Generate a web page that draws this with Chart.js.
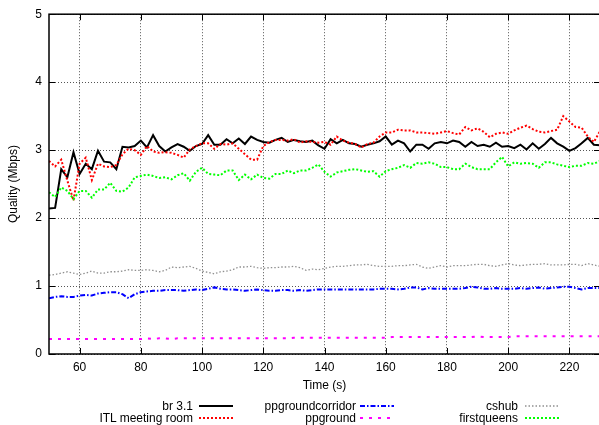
<!DOCTYPE html>
<html><head><meta charset="utf-8">
<style>
html,body{margin:0;padding:0;background:#fff;overflow:hidden;width:599px;height:425px;}
#wrap{position:relative;width:599px;height:425px;overflow:hidden;background:#fff;}
#c{position:absolute;left:0;top:0;}
.lt{position:absolute;font:12px "Liberation Sans",Arial,Helvetica,sans-serif;color:#000;white-space:nowrap;line-height:12px;text-align:right;width:200px;}
.ls{position:absolute;}
</style>
<script src="https://cdn.jsdelivr.net/npm/chart.js"></script>
</head><body><div id="wrap"><canvas id="c" width="600" height="425"></canvas></div>
<script>
const times = [
 50,52,54,56,58,60,62,64,66,68,
 70,72,74,76,78,80,82,84,86,88,
 90,92,94,96,98,100,102,104,106,108,
 110,112,114,116,118,120,122,124,126,128,
 130,132,134,136,138,140,142,144,146,148,
 150,152,154,156,158,160,162,164,166,168,
 170,172,174,176,178,180,182,184,186,188,
 190,192,194,196,198,200,202,204,206,208,
 210,212,214,216,218,220,222,224,226,228,
 230];
const br31 = [
 2.14,2.15,2.72,2.60,2.97,2.65,2.80,2.72,2.99,2.83,
 2.82,2.72,3.05,3.04,3.06,3.14,3.04,3.22,3.06,2.98,
 3.04,3.09,3.05,2.99,3.06,3.09,3.22,3.08,3.08,3.16,
 3.10,3.17,3.09,3.20,3.15,3.12,3.11,3.15,3.18,3.12,
 3.15,3.13,3.12,3.14,3.07,3.02,3.16,3.10,3.15,3.10,
 3.09,3.05,3.08,3.10,3.13,3.20,3.08,3.14,3.10,2.98,
 3.08,3.08,3.02,3.10,3.12,3.10,3.14,3.12,3.05,3.12,
 3.06,3.08,3.05,3.11,3.05,3.06,3.03,3.08,3.01,3.10,
 3.02,3.09,3.18,3.10,3.05,2.99,3.03,3.10,3.18,3.08,
 3.07];
const itlMeetingRoom = [
 2.84,2.76,2.86,2.55,2.26,2.80,2.89,2.56,2.80,2.76,
 2.75,2.78,2.94,3.02,3.00,2.93,3.06,2.98,2.96,2.97,
 2.96,2.93,2.89,3.01,3.06,3.10,3.10,3.02,3.09,3.08,
 3.10,3.02,2.94,2.86,2.86,3.06,3.12,3.15,3.15,3.14,
 3.16,3.11,3.13,3.12,3.11,3.12,3.08,3.20,3.14,3.11,
 3.09,3.04,3.09,3.11,3.20,3.26,3.26,3.30,3.29,3.29,
 3.26,3.26,3.25,3.24,3.26,3.28,3.25,3.23,3.34,3.29,
 3.32,3.27,3.19,3.24,3.26,3.24,3.29,3.33,3.36,3.31,
 3.27,3.26,3.28,3.30,3.50,3.42,3.34,3.33,3.20,3.12,
 3.28];
const ppgroundcorridor = [
 0.82,0.84,0.85,0.84,0.84,0.86,0.87,0.86,0.89,0.90,
 0.91,0.91,0.88,0.82,0.88,0.91,0.92,0.93,0.93,0.94,
 0.94,0.94,0.93,0.94,0.95,0.94,0.96,0.98,0.96,0.95,
 0.95,0.94,0.93,0.94,0.95,0.94,0.93,0.93,0.94,0.94,
 0.93,0.94,0.93,0.94,0.95,0.95,0.95,0.95,0.95,0.95,
 0.95,0.95,0.95,0.95,0.96,0.96,0.96,0.95,0.96,0.98,
 0.98,0.95,0.97,0.96,0.96,0.96,0.96,0.96,0.97,0.99,
 0.98,0.96,0.96,0.97,0.96,0.96,0.96,0.97,0.96,0.97,
 0.98,0.96,0.97,0.98,0.99,0.99,0.97,0.95,0.97,0.97,
 0.97];
const ppground = [
 0.22,0.22,0.22,0.22,0.22,0.22,0.22,0.22,0.22,0.22,
 0.22,0.22,0.22,0.22,0.22,0.22,0.23,0.22,0.23,0.23,
 0.22,0.23,0.23,0.23,0.23,0.23,0.23,0.23,0.23,0.23,
 0.23,0.23,0.23,0.23,0.23,0.23,0.23,0.23,0.23,0.23,
 0.24,0.24,0.24,0.24,0.24,0.24,0.24,0.24,0.24,0.24,
 0.24,0.24,0.24,0.24,0.24,0.24,0.25,0.25,0.25,0.25,
 0.25,0.25,0.25,0.25,0.25,0.25,0.25,0.25,0.25,0.25,
 0.26,0.25,0.25,0.25,0.25,0.25,0.26,0.26,0.26,0.26,
 0.26,0.26,0.26,0.26,0.26,0.26,0.26,0.26,0.26,0.26,
 0.26];
const cshub = [
 1.16,1.17,1.19,1.21,1.19,1.17,1.19,1.22,1.19,1.19,
 1.21,1.21,1.22,1.24,1.23,1.23,1.24,1.23,1.21,1.23,
 1.28,1.27,1.28,1.29,1.26,1.22,1.20,1.18,1.21,1.22,
 1.24,1.28,1.28,1.29,1.27,1.26,1.27,1.27,1.28,1.28,
 1.29,1.27,1.23,1.25,1.24,1.26,1.28,1.29,1.29,1.30,
 1.31,1.31,1.32,1.30,1.29,1.29,1.29,1.30,1.30,1.31,
 1.32,1.28,1.26,1.28,1.30,1.28,1.30,1.30,1.30,1.31,
 1.32,1.32,1.30,1.29,1.31,1.33,1.31,1.30,1.31,1.32,
 1.32,1.33,1.31,1.31,1.31,1.32,1.32,1.30,1.33,1.31,
 1.29];
const firstqueens = [
 2.38,2.31,2.45,2.40,2.28,2.40,2.40,2.30,2.42,2.42,
 2.52,2.40,2.39,2.45,2.60,2.62,2.64,2.62,2.59,2.60,
 2.57,2.63,2.66,2.55,2.68,2.74,2.65,2.64,2.63,2.70,
 2.70,2.56,2.64,2.57,2.64,2.59,2.58,2.65,2.65,2.70,
 2.66,2.70,2.70,2.74,2.79,2.68,2.61,2.67,2.69,2.71,
 2.72,2.70,2.68,2.69,2.61,2.69,2.72,2.74,2.78,2.74,
 2.81,2.80,2.82,2.80,2.75,2.75,2.72,2.72,2.80,2.75,
 2.72,2.72,2.72,2.82,2.90,2.76,2.82,2.80,2.81,2.80,
 2.74,2.82,2.82,2.79,2.77,2.75,2.77,2.77,2.81,2.80,
 2.84];
const seriesNames = ['br 3.1','ITL meeting room','ppgroundcorridor','ppground','cshub','firstqueens'];
const seriesValues = [br31, itlMeetingRoom, ppgroundcorridor, ppground, cshub, firstqueens];
const xTicks = [60,80,100,120,140,160,180,200,220];
const yTicks = [0,1,2,3,4,5];
const xTitle = 'Time (s)';
const yTitle = 'Quality (Mbps)';

// styles (not data)
const styles = [
  {color:'#000000', width:2,   dash:[]},
  {color:'#ff0000', width:2,   dash:[2,2]},
  {color:'#0000ff', width:2,   dash:[5,2,1.5,2]},
  {color:'#ff00ff', width:2,   dash:[3,6]},
  {color:'#909090', width:1.3, dash:[1.5,2]},
  {color:'#00ff00', width:2,   dash:[2,2]}
];
const legendPos = [
  {right:193, sx:199, y:406},
  {right:193, sx:199, y:418},
  {right:356, sx:360, y:406},
  {right:356, sx:360, y:418},
  {right:518, sx:525, y:406},
  {right:518, sx:525, y:418}
];

Chart.defaults.font.family = '"Liberation Sans", Arial, Helvetica, sans-serif';
Chart.defaults.font.size = 12;
Chart.defaults.color = '#000';

const datasets = seriesNames.map((name, i) => ({
  label: name,
  data: times.map((t, k) => ({x: t, y: seriesValues[i][k]})),
  borderColor: styles[i].color,
  borderWidth: styles[i].width,
  borderDash: styles[i].dash,
  borderCapStyle: 'butt',
  pointRadius: 0,
  fill: false,
  tension: 0,
  order: seriesNames.length - i
}));

const frame = {
  id: 'frame',
  afterDatasetsDraw(chart) {
    const {ctx, chartArea: a, scales: {x, y}} = chart;
    ctx.save();
    ctx.setLineDash([]);
    ctx.strokeStyle = '#000';
    ctx.lineWidth = 1;
    ctx.beginPath();
    xTicks.forEach(v => {
      const px = Math.round(x.getPixelForValue(v)) + 0.5;
      ctx.moveTo(px, a.bottom); ctx.lineTo(px, a.bottom - 6);
      ctx.moveTo(px, a.top); ctx.lineTo(px, a.top + 6);
    });
    yTicks.forEach(v => {
      const py = Math.round(y.getPixelForValue(v)) + 0.5;
      ctx.moveTo(a.left, py); ctx.lineTo(a.left + 6, py);
      ctx.moveTo(a.right, py); ctx.lineTo(a.right - 6, py);
    });
    ctx.stroke();
    ctx.lineWidth = 1.5;
    ctx.strokeRect(a.left, a.top, a.right - a.left, a.bottom - a.top);
    ctx.restore();
  }
};

new Chart(document.getElementById('c'), {
  type: 'line',
  data: {datasets},
  options: {
    responsive: false,
    animation: false,
    devicePixelRatio: 1,
    layout: {padding: {top: 12, right: 0, bottom: 0, left: 0}},
    plugins: {legend: {display: false}, tooltip: {enabled: false}},
    scales: {
      x: {
        type: 'linear', min: 50, max: 230,
        afterBuildTicks: s => { s.ticks = xTicks.map(v => ({value: v})); },
        afterFit: s => { s.height = 71; },
        ticks: {padding: 6, maxRotation: 0, autoSkip: false, font: {size: 12}},
        grid: {drawTicks: false, color: '#555', lineWidth: 1},
        border: {display: false, dash: [1, 2]},
        title: {display: true, text: xTitle, font: {size: 12}, padding: {top: 0, bottom: 32}}
      },
      y: {
        type: 'linear', min: 0, max: 5,
        afterBuildTicks: s => { s.ticks = yTicks.map(v => ({value: v})); },
        afterFit: s => { s.width = 49; },
        ticks: {padding: 7, font: {size: 12}},
        grid: {drawTicks: false, color: '#555', lineWidth: 1},
        border: {display: false, dash: [1, 2]},
        title: {display: true, text: yTitle, font: {size: 12}, padding: {top: 6, bottom: 0}}
      }
    }
  },
  plugins: [frame]
});

// legend (gnuplot style: text then sample)
const wrap = document.getElementById('wrap');
seriesNames.forEach((name, i) => {
  const p = legendPos[i];
  const t = document.createElement('div');
  t.className = 'lt';
  t.style.left = (p.right - 200) + 'px';
  t.style.top = (p.y - 6.5) + 'px';
  t.textContent = name;
  wrap.appendChild(t);
  const ns = 'http://www.w3.org/2000/svg';
  const svg = document.createElementNS(ns, 'svg');
  svg.setAttribute('class', 'ls');
  svg.setAttribute('width', '36');
  svg.setAttribute('height', '6');
  svg.style.left = p.sx + 'px';
  svg.style.top = (p.y - 3) + 'px';
  const ln = document.createElementNS(ns, 'line');
  ln.setAttribute('x1', '0'); ln.setAttribute('y1', '3');
  ln.setAttribute('x2', '34'); ln.setAttribute('y2', '3');
  ln.setAttribute('stroke', styles[i].color);
  ln.setAttribute('stroke-width', String(styles[i].width));
  if (styles[i].dash.length) ln.setAttribute('stroke-dasharray', styles[i].dash.join(' '));
  svg.appendChild(ln);
  wrap.appendChild(svg);
});
</script>
</body></html>
